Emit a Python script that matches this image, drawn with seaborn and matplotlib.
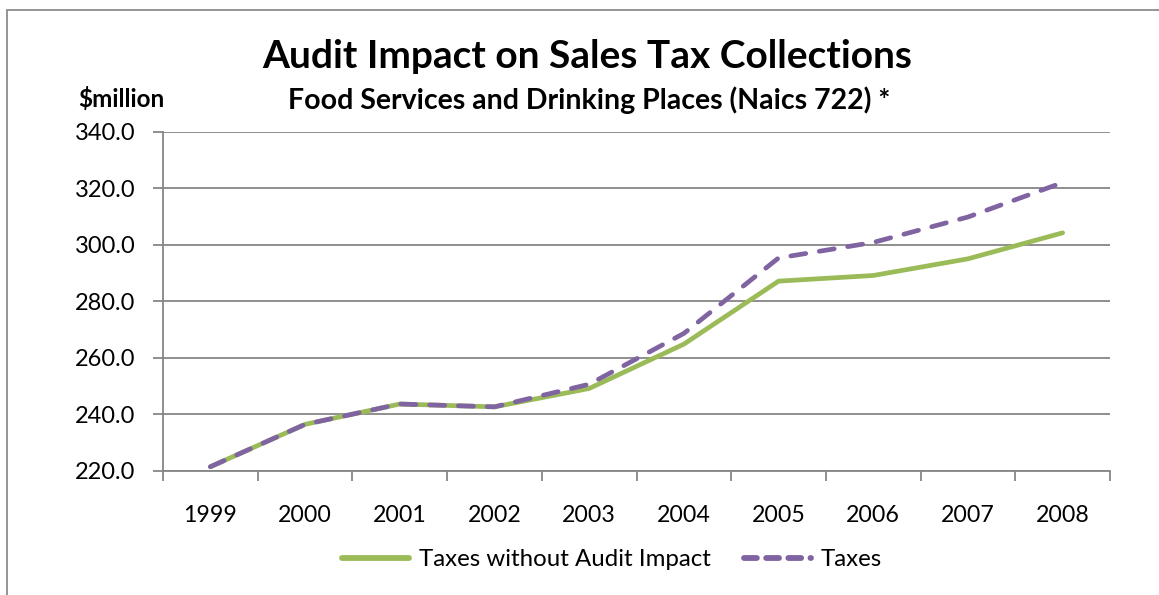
import matplotlib
matplotlib.use("Agg")
import matplotlib.pyplot as plt
import seaborn as sns
import pandas as pd
from matplotlib.lines import Line2D
from matplotlib.patches import Rectangle

years = ["1999", "2000", "2001", "2002", "2003", "2004", "2005", "2006", "2007", "2008"]
taxes_without_audit = [221.4, 236.4, 243.6, 242.6, 249.1, 264.8, 287.1, 289.1, 295.0, 304.2]
taxes = [221.4, 236.4, 243.6, 242.6, 250.6, 268.6, 295.3, 300.8, 309.8, 322.0]
y_ticks = [220, 240, 260, 280, 300, 320, 340]

title = "Audit Impact on Sales Tax Collections"
subtitle = "Food Services and Drinking Places (Naics 722) *"
unit_label = "$million"
name_green = "Taxes without Audit Impact"
name_purple = "Taxes"

GREEN = "#9BBB59"
PURPLE = "#8064A2"
GRID = "#868686"

sns.set_theme(style="white")
plt.rcParams["font.family"] = ["Lato", "DejaVu Sans"]
plt.rcParams["text.color"] = "black"

fig = plt.figure(figsize=(11.59, 5.95), dpi=100)
ax = fig.add_axes([163/1159, 1-470.7/595, (1110-163)/1159, (470.7-131.7)/595])

df_g = pd.DataFrame({"year": years, "value": taxes_without_audit})
df_p = pd.DataFrame({"year": years, "value": taxes})

sns.lineplot(data=df_g, x="year", y="value", ax=ax, color=GREEN, lw=3.4,
             solid_capstyle="round", sort=False, zorder=3)
sns.lineplot(data=df_p, x="year", y="value", ax=ax, color=PURPLE, lw=3.4,
             dashes=False, sort=False, zorder=4)
purple_line = ax.get_lines()[-1]
purple_line.set_dashes((3.2, 2.9))
purple_line.set_dash_capstyle("round")

ax.set_xlim(-0.5, len(years) - 0.5)
ax.set_ylim(220, 340)
ax.set_yticks(y_ticks)
ax.set_yticklabels([f"{v:.1f}" for v in y_ticks])
ax.yaxis.grid(True, color=GRID, lw=1.3)
ax.set_axisbelow(True)
ax.set_xlabel("")
ax.set_ylabel("")

ax.set_xticks(range(len(years)))
ax.set_xticklabels(years)
ax.set_xticks([i - 0.5 for i in range(len(years) + 1)], minor=True)
ax.tick_params(axis="x", which="major", length=0, pad=25, labelsize=16.7, colors="black")
ax.tick_params(axis="x", which="minor", length=7, width=1.3, color=GRID, bottom=True)
ax.tick_params(axis="y", which="major", length=7, width=1.3, color=GRID, left=True,
               pad=13, labelsize=17, labelcolor="black")

for s in ["top", "right"]:
    ax.spines[s].set_visible(False)
for s in ["left", "bottom"]:
    ax.spines[s].set_color(GRID)
    ax.spines[s].set_linewidth(1.3)

fig.text(587/1159, 1-57/595, title, ha="center", va="center", fontsize=28, fontweight="bold")
fig.text(589/1159, 1-100/595, subtitle, ha="center", va="center", fontsize=20.5, fontweight="bold")
fig.text(78/1159, 1-99/595, unit_label, ha="left", va="center", fontsize=17.5, fontweight="bold")

handles = [
    Line2D([], [], color=GREEN, lw=4.2, solid_capstyle="round"),
    Line2D([], [], color=PURPLE, lw=4.2, dashes=(2.2, 1.6), dash_capstyle="round"),
]
fig.legend(handles, [name_green, name_purple], loc="center", bbox_to_anchor=(0.528, 1-560/595),
           ncol=2, frameon=False, fontsize=17.3, handlelength=2.8, handletextpad=0.4,
           columnspacing=1.4)

fig.add_artist(Rectangle((7/1159, -0.1), 1.2, 1 - 10/595 + 0.1, transform=fig.transFigure,
                         fill=False, edgecolor="#8c8c8c", lw=1.3))

fig.savefig("out.png", dpi=100)
